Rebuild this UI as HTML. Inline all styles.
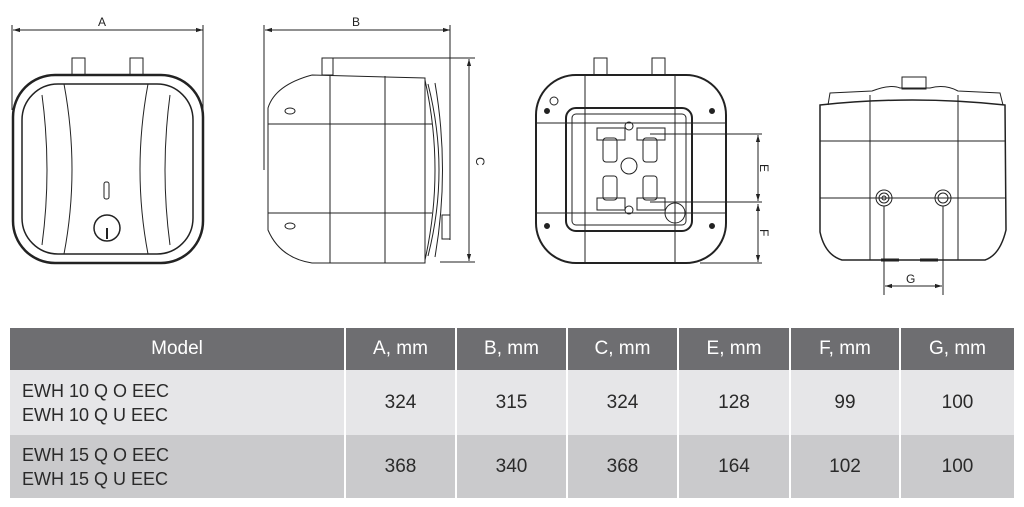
<!DOCTYPE html>
<html><head><style>
body{margin:0;width:1024px;height:507px;background:#fff;overflow:hidden;font-family:"Liberation Sans",sans-serif;position:relative}
svg{position:absolute;left:0;top:0}
.t{position:absolute;left:10px;top:328px;width:1004px;border-collapse:collapse;table-layout:fixed}
.t td{text-align:center;font-size:19px;color:#2a2a2a;border-left:2px solid #fff;padding:0;box-sizing:border-box}
.t tr.h td{background:#6e6e71;color:#fff;height:42px;font-size:19px}
.t tr.r1 td{background:#e6e6e8;height:65px}
.t tr.r2 td{background:#cacacc;height:63px}
.t td.m{text-align:left;padding-left:12px;font-size:18px;line-height:24px;border-left:none}
.t tr.h td.m{text-align:center;padding-left:0}
</style></head><body>
<svg width="1024" height="320" viewBox="0 0 1024 320" fill="none" stroke="#222" stroke-width="1">
<defs><marker id="a" viewBox="0 0 10 10" refX="10" refY="5" markerWidth="7" markerHeight="7" orient="auto-start-reverse"><path d="M0,2L10,5L0,8z" fill="#222" stroke="none"/></marker></defs>
<g font-family="Liberation Sans" font-size="12" fill="#222" stroke="none">
<text x="98" y="26">A</text><text x="352" y="26">B</text>
<text x="476" y="157" transform="rotate(90 476 157)">C</text>
<text x="760" y="164" transform="rotate(90 760 164)">E</text>
<text x="760" y="229" transform="rotate(90 760 229)">F</text>
<text x="906" y="283">G</text></g>
<line x1="13" y1="30" x2="203" y2="30" marker-start="url(#a)" marker-end="url(#a)"/>
<line x1="12" y1="25" x2="12" y2="110"/><line x1="203" y1="25" x2="203" y2="110"/>
<rect x="72" y="58" width="13" height="17"/><rect x="130" y="58" width="13" height="17"/>
<rect x="13" y="75" width="190" height="188" rx="42" stroke-width="2.5"/>
<rect x="22" y="84" width="171" height="170" rx="36" stroke-width="1.5"/>
<path d="M64 84 Q80 170 64 254 M148 84 Q132 170 148 254 M42 95 Q52 170 42 245 M170 95 Q160 170 170 245"/>
<rect x="104" y="182" width="5" height="17" rx="2"/>
<circle cx="107" cy="228" r="13" stroke-width="1.5"/><line x1="107" y1="228" x2="107" y2="239" stroke-width="2"/>
<line x1="265" y1="30" x2="450" y2="30" marker-start="url(#a)" marker-end="url(#a)"/>
<line x1="264" y1="25" x2="264" y2="170"/><line x1="450" y1="25" x2="450" y2="240"/>
<line x1="333" y1="58" x2="475" y2="58"/><line x1="440" y1="262" x2="475" y2="262"/>
<line x1="469" y1="59" x2="469" y2="261" marker-start="url(#a)" marker-end="url(#a)"/>
<rect x="322" y="58" width="11" height="17"/>
<path d="M312 75 Q275 85 268 108 L268 230 Q280 258 312 263 L425 263 L425 78 L312 75"/>
<path d="M330 75V263M385 76V263M268 124H432M268 213H432"/>
<path d="M425 80 Q445 170 425 260 M428 84 Q450 170 428 256 M435 83 Q450 170 435 257"/>
<rect x="442" y="215" width="8" height="24"/>
<ellipse cx="290" cy="111" rx="5" ry="3"/><ellipse cx="290" cy="226" rx="5" ry="3"/>
<rect x="594" y="58" width="13" height="17"/><rect x="652" y="58" width="13" height="17"/>
<rect x="536" y="75" width="190" height="188" rx="40" stroke-width="2"/>
<path d="M585 75V263M675 75V263M536 123H726M536 213H726"/>
<rect x="566" y="108" width="126" height="123" rx="10" stroke-width="2"/>
<rect x="572" y="114" width="114" height="111" rx="4"/>
<rect x="597" y="128" width="28" height="12"/><rect x="637" y="128" width="28" height="12"/>
<rect x="603" y="138" width="14" height="24" rx="3"/><rect x="643" y="138" width="14" height="24" rx="3"/>
<rect x="597" y="198" width="28" height="12"/><rect x="637" y="198" width="28" height="12"/>
<rect x="603" y="176" width="14" height="24" rx="3"/><rect x="643" y="176" width="14" height="24" rx="3"/>
<circle cx="629" cy="166" r="8"/><circle cx="629" cy="126" r="4"/><circle cx="629" cy="210" r="4"/>
<circle cx="675" cy="213" r="10"/>
<circle cx="554" cy="101" r="4"/><circle cx="547" cy="111" r="2.5" fill="#222"/><circle cx="712" cy="111" r="2.5" fill="#222"/>
<circle cx="547" cy="226" r="2.5" fill="#222"/><circle cx="712" cy="226" r="2.5" fill="#222"/>
<line x1="650" y1="134" x2="762" y2="134"/><line x1="650" y1="202" x2="762" y2="202"/><line x1="700" y1="263" x2="762" y2="263"/>
<line x1="758" y1="135" x2="758" y2="201" marker-start="url(#a)" marker-end="url(#a)"/>
<line x1="758" y1="204" x2="758" y2="262" marker-start="url(#a)" marker-end="url(#a)"/>
<rect x="902" y="77" width="24" height="12"/>
<path d="M828 105 L830 93 L872 91 Q890 84 900 88 L930 88 Q945 84 958 91 L1000 93 L1003 105"/>
<path d="M820 105 Q912 95 1005 105 L1006 230 Q1000 255 985 260 L842 260 Q825 255 820 232 Z" stroke-width="1.5"/>
<path d="M870 95V260M958 95V260M820 141H1005M820 198H1005"/>
<circle cx="884" cy="198" r="8"/><circle cx="884" cy="198" r="5"/><circle cx="884" cy="198" r="2"/>
<circle cx="943" cy="198" r="8"/><circle cx="943" cy="198" r="5"/>
<line x1="884" y1="206" x2="884" y2="295"/><line x1="943" y1="206" x2="943" y2="295"/>
<line x1="885" y1="286" x2="942" y2="286" marker-start="url(#a)" marker-end="url(#a)"/>
<path d="M881 260h18M920 260h18" stroke-width="3"/>
</svg>
<table class="t">
<colgroup><col style="width:335px"><col style="width:111px"><col style="width:111px"><col style="width:111px"><col style="width:112px"><col style="width:110px"><col style="width:114px"></colgroup>
<tr class="h"><td class="m">Model</td><td>A, mm</td><td>B, mm</td><td>C, mm</td><td>E, mm</td><td>F, mm</td><td>G, mm</td></tr>
<tr class="r1"><td class="m">EWH 10 Q O EEC<br>EWH 10 Q U EEC</td><td>324</td><td>315</td><td>324</td><td>128</td><td>99</td><td>100</td></tr>
<tr class="r2"><td class="m">EWH 15 Q O EEC<br>EWH 15 Q U EEC</td><td>368</td><td>340</td><td>368</td><td>164</td><td>102</td><td>100</td></tr>
</table>
</body></html>
